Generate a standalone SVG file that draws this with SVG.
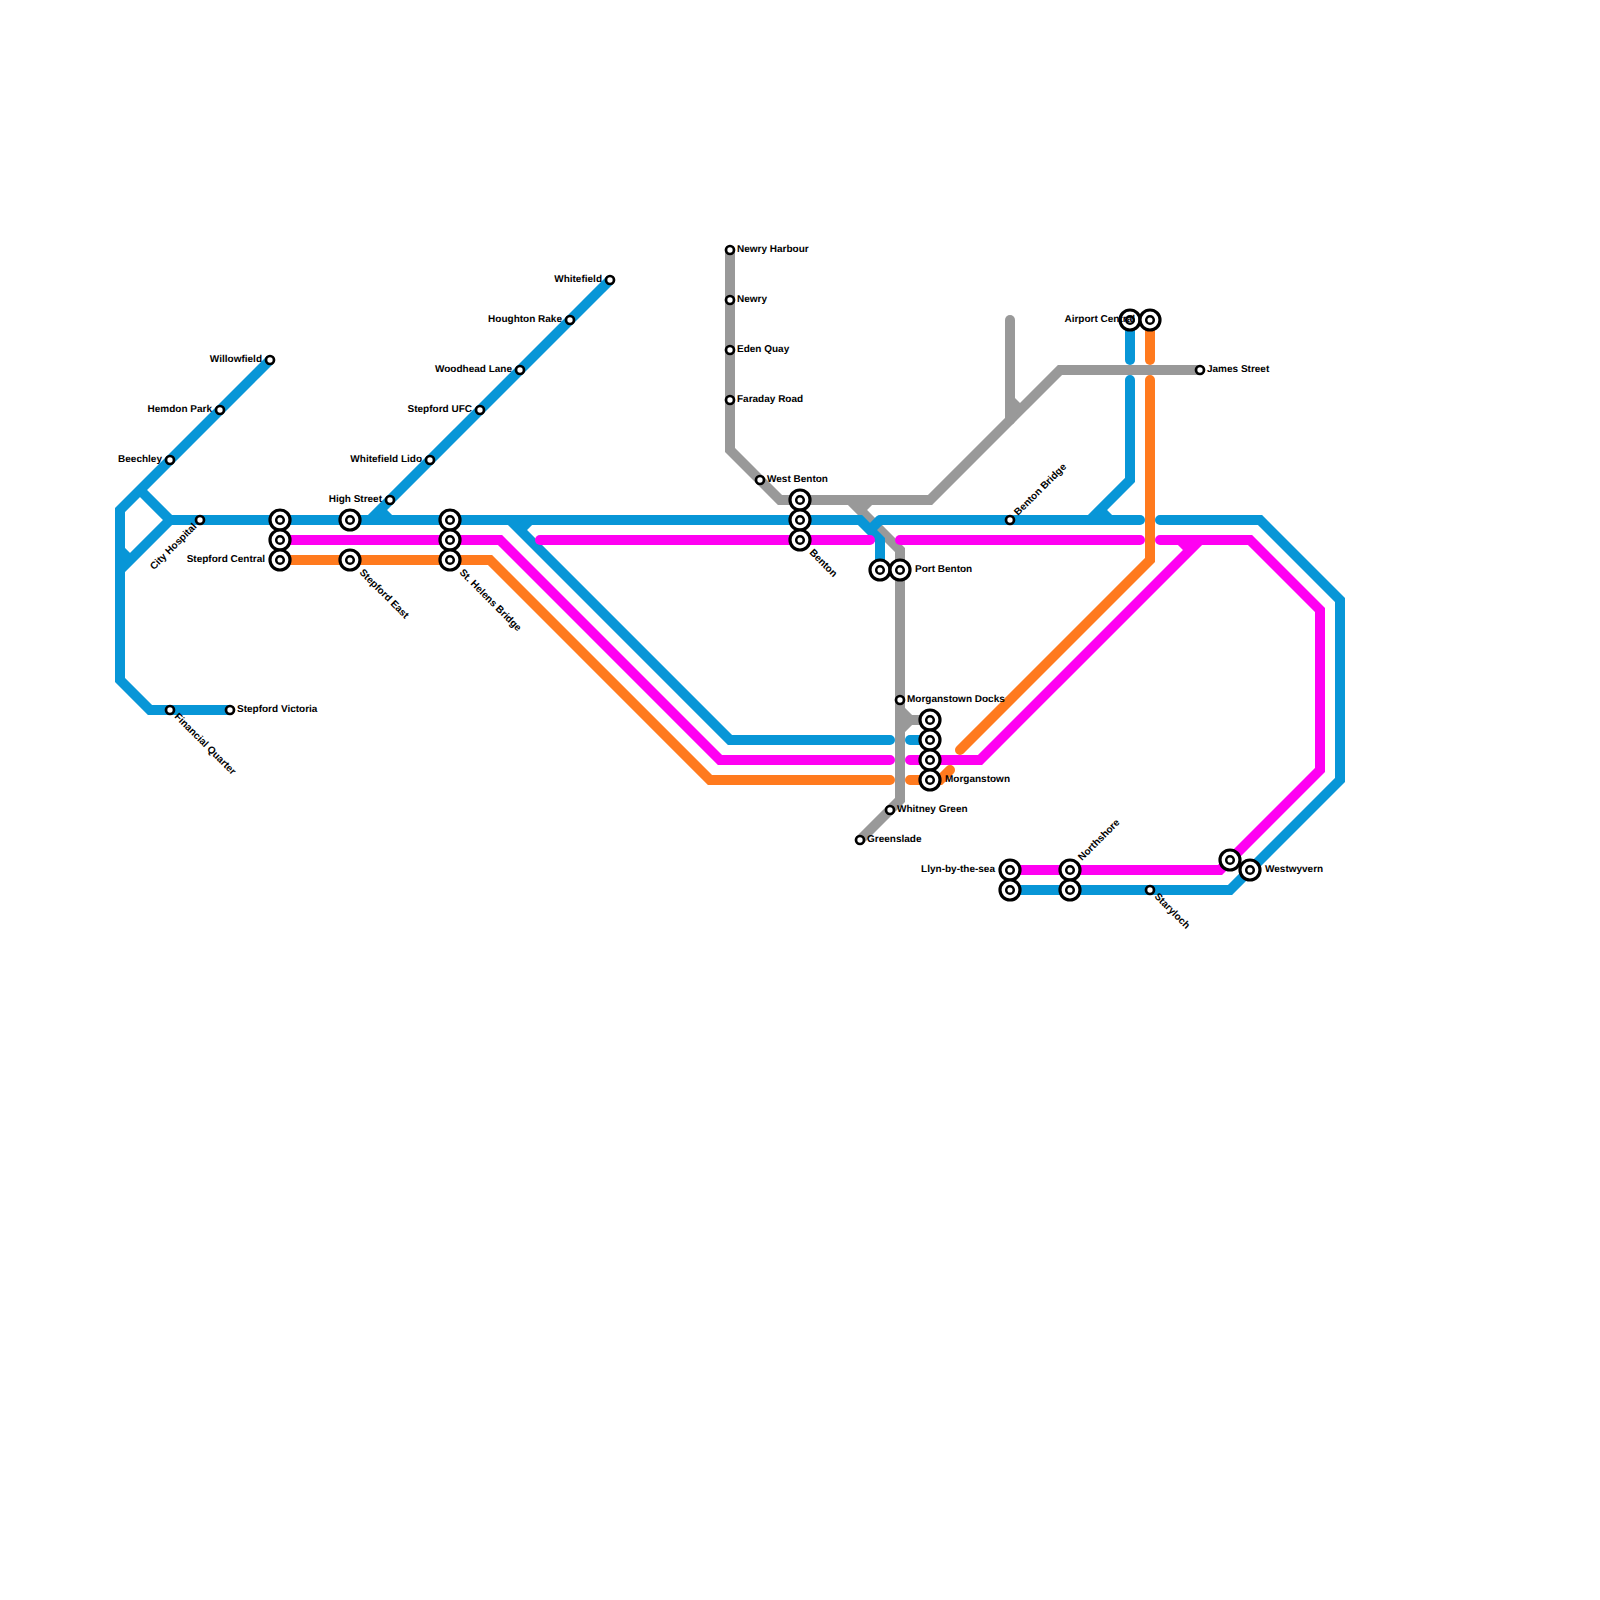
<svg xmlns="http://www.w3.org/2000/svg" width="1600" height="1600" viewBox="0 0 1600 1600">
<style>
.l{fill:none;stroke-width:10;stroke-linejoin:miter;stroke-miterlimit:10}
.r{stroke-linecap:round}
.b{stroke:#0896d7}.m{stroke:#ff00f2}.o{stroke:#ff7a1e}.g{stroke:#999999}
.s{fill:#fff;stroke:#000;stroke-width:2.7}
.c{fill:#fff;stroke:#000;stroke-width:3.2}
.h{fill:#fff;stroke:#000;stroke-width:2.5}
text{font-family:"Liberation Sans",Arial,sans-serif;font-size:10px;font-weight:bold;fill:#000;text-rendering:geometricPrecision}
.e{text-anchor:end}
</style>
<defs>
<g id="st"><circle class="s" r="4"/></g>
<g id="ix"><circle class="c" r="10"/><circle class="h" r="3.8"/></g>
</defs>
<rect width="1600" height="1600" fill="#fff"/>
<g id="connectors">
<path class="l g" d="M730 250V450L780 500H930L1060 370H1200"/>
<path class="l g r" d="M1010 320V420"/>
<path class="l g" d="M1010 400L1020 410"/>
<path class="l g" d="M850 500L900 550V800L860 840"/>
<path class="l g" d="M870 500L860 510"/>
<path class="l g" d="M900 710L910 720H930"/>
<path class="l g" d="M900 730L910 720"/>
<path class="l b" d="M270 360L120 510V680L150 710H230"/>
<path class="l b" d="M140 490L170 520H860L880 540V570"/>
<path class="l b" d="M170 520L120 570"/>
<path class="l b" d="M120 550L130 560"/>
<path class="l b" d="M610 280L370 520"/>
<path class="l b" d="M380 510L390 520"/>
<path class="l b r" d="M510 520L730 740H890"/>
<path class="l b" d="M530 520L520 530"/>
<path class="l b" d="M870 530L880 520"/>
<path class="l b r" d="M880 520H1140"/>
<path class="l b r" d="M1130 380V480L1090 520"/>
<path class="l b" d="M1100 510L1110 520"/>
<path class="l b r" d="M1130 320V360"/>
<path class="l b r" d="M1160 520H1260L1340 600V780L1230 890H1010"/>
<path class="l b r" d="M910 740H930"/>
<path class="l m r" d="M290 540H500L720 760H890"/>
<path class="l m r" d="M540 540H870"/>
<path class="l m r" d="M900 540H1140"/>
<path class="l m r" d="M1160 540H1250L1320 610V770L1220 870H1020"/>
<path class="l m r" d="M910 760H980L1200 540"/>
<path class="l m" d="M1180 540L1190 550"/>
<path class="l o r" d="M290 560H490L710 780H890"/>
<path class="l o r" d="M910 780H940L950 770"/>
<path class="l o r" d="M960 750L1150 560V380"/>
<path class="l o r" d="M1150 320V360"/>
</g>
<g id="nodes">
<g id="n-willowfield"><use href="#st" x="270" y="360"/><text class="e" x="262" y="362">Willowfield</text></g>
<g id="n-hemdon"><use href="#st" x="220" y="410"/><text class="e" x="212" y="412">Hemdon Park</text></g>
<g id="n-beechley"><use href="#st" x="170" y="460"/><text class="e" x="162" y="462">Beechley</text></g>
<g id="n-cityhospital"><use href="#st" x="200" y="520"/><text class="e" transform="translate(195 525) rotate(-45)" y="3">City Hospital</text></g>
<g id="n-financial"><use href="#st" x="170" y="710"/><text transform="translate(176 715) rotate(45)" y="3">Financial Quarter</text></g>
<g id="n-victoria"><use href="#st" x="230" y="710"/><text x="237" y="712">Stepford Victoria</text></g>
<g id="n-stepford-1"><use href="#ix" x="280" y="520"/></g>
<g id="n-stepford-2"><use href="#ix" x="280" y="540"/></g>
<g id="n-stepford-3"><use href="#ix" x="280" y="560"/><text class="e" x="265" y="562">Stepford Central</text></g>
<g id="n-east-1"><use href="#ix" x="350" y="520"/></g>
<g id="n-east-2"><use href="#ix" x="350" y="560"/><text transform="translate(361 571) rotate(45)" y="3">Stepford East</text></g>
<g id="n-highstreet"><use href="#st" x="390" y="500"/><text class="e" x="382" y="502">High Street</text></g>
<g id="n-lido"><use href="#st" x="430" y="460"/><text class="e" x="422" y="462">Whitefield Lido</text></g>
<g id="n-ufc"><use href="#st" x="480" y="410"/><text class="e" x="472" y="412">Stepford UFC</text></g>
<g id="n-woodhead"><use href="#st" x="520" y="370"/><text class="e" x="512" y="372">Woodhead Lane</text></g>
<g id="n-houghton"><use href="#st" x="570" y="320"/><text class="e" x="562" y="322">Houghton Rake</text></g>
<g id="n-whitefield"><use href="#st" x="610" y="280"/><text class="e" x="602" y="282">Whitefield</text></g>
<g id="n-helens-1"><use href="#ix" x="450" y="520"/></g>
<g id="n-helens-2"><use href="#ix" x="450" y="540"/></g>
<g id="n-helens-3"><use href="#ix" x="450" y="560"/><text transform="translate(461 571) rotate(45)" y="3">St. Helens Bridge</text></g>
<g id="n-harbour"><use href="#st" x="730" y="250"/><text x="737" y="252">Newry Harbour</text></g>
<g id="n-newry"><use href="#st" x="730" y="300"/><text x="737" y="302">Newry</text></g>
<g id="n-eden"><use href="#st" x="730" y="350"/><text x="737" y="352">Eden Quay</text></g>
<g id="n-faraday"><use href="#st" x="730" y="400"/><text x="737" y="402">Faraday Road</text></g>
<g id="n-westbenton"><use href="#st" x="760" y="480"/><text x="767" y="482">West Benton</text></g>
<g id="n-benton-1"><use href="#ix" x="800" y="500"/></g>
<g id="n-benton-2"><use href="#ix" x="800" y="520"/></g>
<g id="n-benton-3"><use href="#ix" x="800" y="540"/><text transform="translate(811 551) rotate(45)" y="3">Benton</text></g>
<g id="n-portbenton-1"><use href="#ix" x="880" y="570"/></g>
<g id="n-portbenton-2"><use href="#ix" x="900" y="570"/><text x="915" y="572">Port Benton</text></g>
<g id="n-docks"><use href="#st" x="900" y="700"/><text x="907" y="702">Morganstown Docks</text></g>
<g id="n-morgan-1"><use href="#ix" x="930" y="720"/></g>
<g id="n-morgan-2"><use href="#ix" x="930" y="740"/></g>
<g id="n-morgan-3"><use href="#ix" x="930" y="760"/></g>
<g id="n-morgan-4"><use href="#ix" x="930" y="780"/><text x="945" y="782">Morganstown</text></g>
<g id="n-whitney"><use href="#st" x="890" y="810"/><text x="897" y="812">Whitney Green</text></g>
<g id="n-greenslade"><use href="#st" x="860" y="840"/><text x="867" y="842">Greenslade</text></g>
<g id="n-bentonbridge"><use href="#st" x="1010" y="520"/><text transform="translate(1016 514) rotate(-45)" y="3">Benton Bridge</text></g>
<g id="n-airport-1"><use href="#ix" x="1130" y="320"/><text class="e" x="1135" y="322">Airport Central</text></g>
<g id="n-airport-2"><use href="#ix" x="1150" y="320"/></g>
<g id="n-james"><use href="#st" x="1200" y="370"/><text x="1207" y="372">James Street</text></g>
<g id="n-llyn-1"><use href="#ix" x="1010" y="870"/><text class="e" x="995" y="872">Llyn-by-the-sea</text></g>
<g id="n-llyn-2"><use href="#ix" x="1010" y="890"/></g>
<g id="n-northshore-1"><use href="#ix" x="1070" y="870"/><text transform="translate(1080 859) rotate(-45)" y="3">Northshore</text></g>
<g id="n-northshore-2"><use href="#ix" x="1070" y="890"/></g>
<g id="n-staryloch"><use href="#st" x="1150" y="890"/><text transform="translate(1156 895) rotate(45)" y="3">Staryloch</text></g>
<g id="n-westwyvern-1"><use href="#ix" x="1230" y="860"/></g>
<g id="n-westwyvern-2"><use href="#ix" x="1250" y="870"/><text x="1265" y="872">Westwyvern</text></g>
</g>
</svg>
